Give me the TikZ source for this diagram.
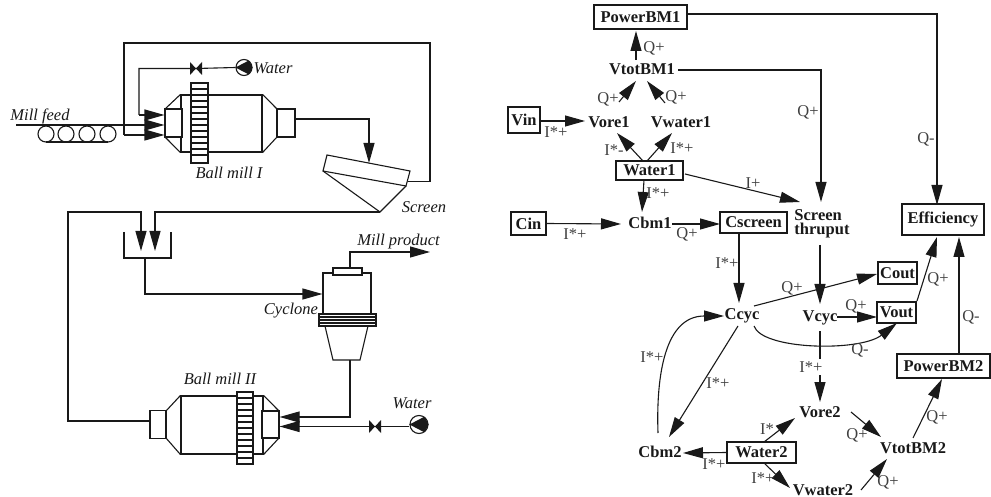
\documentclass[tikz,border=0pt]{standalone}
\usepackage{fontspec}
\setmainfont{Liberation Serif}
\usetikzlibrary{arrows.meta}
\newcommand{\valvesym}[1]{\fill[inkline] ([shift={(-6,-6.5)}]#1) -- ([shift={(6,6.5)}]#1) -- ([shift={(6,-6.5)}]#1) -- ([shift={(-6,6.5)}]#1) -- cycle;}
\newcommand{\pumpsym}[1]{\fill[inkline] (#1.west) -- (#1.55) -- (#1.east) -- (#1.-55) -- cycle;}
\colorlet{inkline}{black!90}
\begin{document}
\begin{tikzpicture}[
  x=1pt, y=-1pt,
  font=\fontsize{16.5}{14}\selectfont,
  >={Triangle[length=20pt,width=11pt]},
  vessel/.style={draw=inkline, line width=1.1pt, fill=white, inner sep=0pt},
  pump/.style={circle, draw=inkline, line width=1.1pt, fill=white, inner sep=0pt, minimum size=16pt},
  tag/.style={font=\fontsize{16.5}{14}\selectfont\itshape, text=inkline, inner sep=0pt},
  box/.style={draw=inkline, line width=1.1pt, fill=white, inner sep=0pt, text=inkline,
              font=\fontsize{16.5}{14}\selectfont\bfseries},
  var/.style={inner sep=0pt, align=left, text=inkline, font=\fontsize{16.5}{14}\selectfont\bfseries},
  elab/.style={inner sep=0pt, text=black!75},
  pipe/.style={draw=inkline, line width=1.1pt},
  arr/.style={->, draw=inkline, line width=1.1pt},
]
\useasboundingbox (0,0) rectangle (991,497);

% ---- ball mill I ----
\node[vessel, minimum width=81pt, minimum height=57pt] (bodyA) at (221.5,123.5) {};
\node[vessel, minimum width=17pt, minimum height=80pt] (gearA) at (199.5,123) {};
\foreach \yy in {89,95,...,160} \draw[pipe] (191,\yy) -- (208,\yy);
\coordinate (coneAa) at (165,109);
\coordinate (coneAb) at (165,137);
\coordinate (coneAc) at (277,109);
\coordinate (coneAd) at (277,137);
\draw[pipe] (coneAa) -- (bodyA.north west) (coneAb) -- (bodyA.south west);
\draw[pipe] (coneAc) -- (bodyA.north east) (coneAd) -- (bodyA.south east);
\node[vessel, minimum width=17pt, minimum height=28pt] (inletA)  at (173.5,123) {};
\node[vessel, minimum width=18pt, minimum height=28pt] (outletA) at (286,123) {};
\node[tag] (tagmillA) at (229,173) {Ball mill I};

% ---- feed, water, recycle ----
\node[tag] (tagfeed) at (40,116) {Mill feed};
\coordinate (feedin) at (16,125);
\foreach \xx in {46,66,87,108} \draw[pipe] (\xx,134) circle (8);
\draw[pipe] (46,142) -- (108,142);
\draw[arr] (feedin) -- (inletA.west |- feedin);
\node[pump] (pumpA) at (244,67.5) {};
\pumpsym{pumpA}
\coordinate (valveA) at (196,68.5);
\node[tag] (tagwaterA) at (273,68) {Water};
\coordinate (wbend) at (139,68.5);
\coordinate (wdown) at (139,115);
\draw[pipe] (pumpA.west) -- (valveA) -- (wbend) -- (wdown);
\draw[arr] (wdown) -- (inletA.west |- wdown);
\valvesym{valveA}
\coordinate (recin) at (124,135);
\coordinate (rectop) at (124,43);
\coordinate (recright) at (430,43);
\coordinate (recdown) at (430,181.5);
\draw[arr] (recin) -- (inletA.west |- recin);
\draw[pipe] (recin) -- (rectop) -- (recright) -- (recdown) -- (408,181.5);

% ---- screen ----
\coordinate (scrTL) at (327,155);
\coordinate (scrTR) at (410,171);
\coordinate (scrBR) at (406,186);
\coordinate (scrBL) at (323,171);
\coordinate (scrtip) at (380,212);
\coordinate (scrin) at (369,163);
\draw[pipe, fill=white] (scrTL) -- (scrTR) -- (scrBR) -- (scrBL) -- cycle;
\draw[pipe] (scrBL) -- (scrtip) -- (scrBR);
\draw[arr] (outletA.east |- 0,119) -- (369,119) -- (scrin);
\node[tag] (tagscreen) at (424,207) {Screen};

% ---- tank ----
\coordinate (tankTL) at (124,232);
\coordinate (tankBL) at (124,258);
\coordinate (tankBR) at (171,258);
\coordinate (tankTR) at (171,232);
\coordinate (tankout) at (145,258);
\draw[pipe] (tankTL) -- (tankBL) -- (tankBR) -- (tankTR);
\draw[arr] (scrtip) -- (155,212) -- (155,251);
\draw[arr] (150,421) -- (68,421) -- (68,212) -- (141,212) -- (141,251);

% ---- cyclone ----
\node[vessel, minimum width=48pt, minimum height=41pt] (cycbody) at (347,293.5) {};
\node[vessel, minimum width=29pt, minimum height=7pt] (cyccap) at (347.5,271.5) {};
\node[vessel, minimum width=57pt, minimum height=12pt] (cycband) at (347.5,320) {};
\foreach \yy in {317,320,323} \draw[pipe] (319,\yy) -- (376,\yy);
\draw[pipe] (325,326) -- (333,360) -- (360,360) -- (368,326);
\coordinate (cycbot) at (350,360);
\node[tag] (tagproduct) at (398.5,241.5) {Mill product};
\node[tag] (tagcyclone) at (291,311) {Cyclone};
\draw[arr] (tankout) -- (145,294) -- (cycbody.west |- 0,294);
\draw[arr] (350,268) -- (350,252) -- (430,252);

% ---- ball mill II ----
\node[vessel, minimum width=82pt, minimum height=58pt] (bodyB) at (222,425) {};
\node[vessel, minimum width=16pt, minimum height=72pt] (gearB) at (245,428) {};
\foreach \yy in {398,404,...,460} \draw[pipe] (237,\yy) -- (253,\yy);
\coordinate (coneBa) at (166,411);
\coordinate (coneBb) at (166,438);
\coordinate (coneBc) at (279,411);
\coordinate (coneBd) at (279,438);
\draw[pipe] (coneBa) -- (bodyB.north west) (coneBb) -- (bodyB.south west);
\draw[pipe] (coneBc) -- (bodyB.north east) (coneBd) -- (bodyB.south east);
\node[vessel, minimum width=16pt, minimum height=28pt] (outletB) at (158,424.5) {};
\node[vessel, minimum width=17pt, minimum height=27pt] (inletB)  at (270.5,424.5) {};
\node[tag] (tagmillB) at (220,379) {Ball mill II};
\draw[arr] (cycbot) -- (350,417) -- (inletB.east |- 0,417);
\node[pump, minimum size=18pt] (pumpB) at (419,424.5) {};
\pumpsym{pumpB}
\coordinate (valveB) at (375,426.5);
\draw[arr] (pumpB.west |- valveB) -- (inletB.east |- valveB);
\valvesym{valveB}
\node[tag] (tagwaterB) at (412,403) {Water};

% ---- upper graph nodes ----
\node[box, minimum width=93pt, minimum height=24pt] (powerA) at (640.5,17) {PowerBM1};
\node[var] (vtotA) at (642,69) {VtotBM1};
\node[box, minimum width=32pt, minimum height=26pt] (vin) at (524,120) {Vin};
\node[var] (voreA) at (609,122) {Vore1};
\node[var] (vwaterA) at (681,122) {Vwater1};
\node[box, minimum width=67pt, minimum height=19pt] (waterA) at (649.5,170.5) {Water1};
\node[box, minimum width=35pt, minimum height=23pt] (cin) at (528.5,223.5) {Cin};
\node[var] (cbmA) at (650,223) {Cbm1};
\node[box, minimum width=67pt, minimum height=21pt] (cscreen) at (753.5,222.5) {Cscreen};
\node[var] (thruput) at (822,224) {Screen\\thruput};
\node[box, minimum width=82pt, minimum height=31pt] (effic) at (943,219.5) {Efficiency};

% ---- lower graph nodes ----
\node[var] (ccyc) at (742,316) {Ccyc};
\node[var] (vcyc) at (820,318) {Vcyc};
\node[box, minimum width=39pt, minimum height=22pt] (cout) at (897.5,273) {Cout};
\node[box, minimum width=39pt, minimum height=21pt] (vout) at (896.5,312.5) {Vout};
\node[box, minimum width=93pt, minimum height=24pt] (powerB) at (943.5,366) {PowerBM2};
\node[var] (voreB) at (820,412) {Vore2};
\node[var] (vtotB) at (913,448) {VtotBM2};
\node[box, minimum width=69pt, minimum height=21pt] (waterB) at (761.5,452.5) {Water2};
\node[var] (cbmB) at (660,452) {Cbm2};
\node[var] (vwaterB) at (823,490) {Vwater2};

% ---- upper arrows ----
\draw[arr] ([shift={(-6,-9)}]vtotA.center) -- ([shift={(-4.5,14)}]powerA.center);
\draw[arr] ([shift={(36,1)}]vtotA.center) -- (821,70) -- ([shift={(-1,-22)}]thruput.center);
\draw[arr] ([shift={(0,-3)}]powerA.east) -- (937,14) -- ([shift={(-6,-14.5)}]effic.center);
\draw[arr] ([shift={(0,1)}]vin.east) -- ([shift={(-24,-1)}]voreA.center);
\draw[arr] ([shift={(10,-20)}]voreA.center) -- ([shift={(-6,12)}]vtotA.center);
\draw[arr] ([shift={(-16,-19)}]vwaterA.center) -- ([shift={(5,12)}]vtotA.center);
\draw[arr] ([shift={(-6.5,-9.5)}]waterA.center) -- ([shift={(8,11)}]voreA.center);
\draw[arr] ([shift={(-2.5,-9.5)}]waterA.center) -- ([shift={(-9,11)}]vwaterA.center);
\draw[arr] ([shift={(-5.5,9.5)}]waterA.center) -- ([shift={(-8,-11)}]cbmA.center);
\draw[arr] ([shift={(35.5,3.5)}]waterA.center) -- ([shift={(-22,-22)}]thruput.center);
\draw[arr] (cin.east) -- ([shift={(-29,1)}]cbmA.center);
\draw[arr] ([shift={(22,1)}]cbmA.center) -- ([shift={(-33.5,1.5)}]cscreen.center);

% ---- lower arrows ----
\draw[arr] ([shift={(-14.5,10.5)}]cscreen.center) -- ([shift={(-3,-13)}]ccyc.center);
\draw[arr] ([shift={(-2,21)}]thruput.center) -- ([shift={(0,-14)}]vcyc.center);
\draw[arr] ([shift={(12,-10)}]ccyc.center) -- ([shift={(-20.5,1)}]cout.center);
\draw[arr] ([shift={(17,-1)}]vcyc.center) -- ([shift={(-19.5,4.5)}]vout.center);
\draw[arr] ([shift={(12,10)}]ccyc.center) .. controls (762,350) and (860,352) .. ([shift={(0.5,10.5)}]vout.center);
\draw[arr] ([shift={(20.5,-11.5)}]vout.center) -- ([shift={(-6,17.5)}]effic.center);
\draw[arr] ([shift={(15.5,-12)}]powerB.center) -- ([shift={(16,17.5)}]effic.center);
\draw[arr] ([shift={(-4,10)}]ccyc.center) -- ([shift={(9,-15)}]cbmB.center);
\draw[arr] ([shift={(-2,-19)}]cbmB.center) .. controls (656,375) and (665,316) .. ([shift={(-18,0)}]ccyc.center);
\draw[arr] ([shift={(0,13)}]vcyc.center) -- ([shift={(0,-10)}]voreB.center);
\draw[arr] ([shift={(2.5,-10.5)}]waterB.center) -- ([shift={(-25,6)}]voreB.center);
\draw[arr] ([shift={(2.5,10.5)}]waterB.center) -- ([shift={(-33,-2)}]vwaterB.center);
\draw[arr] (waterB.west) -- ([shift={(23,1)}]cbmB.center);
\draw[arr] ([shift={(31,0)}]voreB.center) -- ([shift={(-32,-11)}]vtotB.center);
\draw[arr] ([shift={(38,0)}]vwaterB.center) -- ([shift={(-26,11)}]vtotB.center);
\draw[arr] ([shift={(0,-10)}]vtotB.center) -- ([shift={(-1.5,13)}]powerB.center);

% ---- labels ----
\node[elab] (qa) at (654,48) {Q+};
\node[elab] (qb) at (608,99) {Q+};
\node[elab] (qc) at (676,97) {Q+};
\node[elab] (qd) at (808,112) {Q+};
\node[elab] (qe) at (926,139) {Q-};
\node[elab] (ia) at (556,132) {I*+};
\node[elab] (ib) at (614,150) {I*-};
\node[elab] (ic) at (682,148) {I*+};
\node[elab] (id) at (658,193) {I*+};
\node[elab] (ie) at (753,183) {I+};
\node[elab] (if) at (575,234) {I*+};
\node[elab] (qf) at (687,234) {Q+};
\node[elab] (ig) at (727,263) {I*+};
\node[elab] (qg) at (792,288) {Q+};
\node[elab] (qh) at (856,306) {Q+};
\node[elab] (qi) at (860,350) {Q-};
\node[elab] (qj) at (938,279) {Q+};
\node[elab] (qk) at (971,317) {Q-};
\node[elab, fill=white, inner ysep=3pt] (ih) at (811,367) {I*+};
\node[elab] (ql) at (937,417) {Q+};
\node[elab] (qm) at (857,435) {Q+};
\node[elab] (qn) at (888,482) {Q+};
\node[elab] (ii) at (767,429) {I*};
\node[elab] (ij) at (763,478) {I*+};
\node[elab] (ik) at (714,464) {I*+};
\node[elab] (il) at (718,383) {I*+};
\node[elab] (im) at (652,357) {I*+};
\end{tikzpicture}
\end{document}
